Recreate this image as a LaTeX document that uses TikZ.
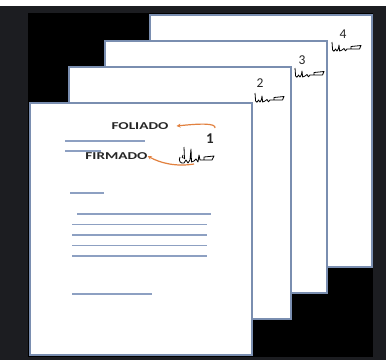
\documentclass[tikz,border=0pt]{standalone}
\usepackage{fontspec}
\setmainfont{Carlito}
\usetikzlibrary{arrows.meta}
\definecolor{framegray}{HTML}{1C1D21}
\definecolor{pageblue}{HTML}{7A8EB0}
\definecolor{lineblue}{HTML}{8DA0C2}
\definecolor{arroworange}{HTML}{E2813F}
\definecolor{txt}{HTML}{262626}
\tikzset{
  page/.style={draw=pageblue, line width=1.8pt, fill=white, anchor=north west,
    minimum width=222pt, minimum height=252pt, inner sep=0pt, outer sep=0pt},
  textline/.style={draw=lineblue, line width=1.5pt},
  lbl/.style={font=\fontsize{10.5}{11}\selectfont\bfseries, text=txt, inner sep=0pt},
  num/.style={font=\fontsize{13.5}{14}\selectfont, text=txt, inner sep=0pt},
  arr/.style={draw=arroworange, line width=1.2pt, -{Stealth[length=4pt,width=4pt]}},
  firma/.pic={
    \draw[line width=0.8pt, black, line join=round]
      (0,-8) -- (0.6,0) -- (2,1.2) -- (3.5,-1) -- (5,1) -- (6.5,-1.5)
      -- (7,-5) -- (7.6,1) -- (10,0) -- (12,-1.5) -- (13.5,0.8) -- (15,-1)
      -- (19,-1) -- (19,-3.5) -- (29,-4.5) -- (27.5,-1) -- (19,-1);
  },
  firmauno/.pic={
    \draw[line width=0.8pt, black, line join=round]
      (4,-14) -- (4.5,-2) (0,-4) .. controls (-2,0) and (1,3) .. (4,2)
      -- (6,-1) -- (8,2) -- (10,-1) -- (11,-12) -- (11.5,1) -- (14,0)
      -- (16,-2) -- (18,1) -- (19,-6) -- (20,-1) -- (24,-1) -- (24,-4)
      -- (34,-5) -- (32,-1) -- (24,-1);
    \draw[line width=0.7pt, black] (3,-6) .. controls (1,-5) and (2,-2) .. (5,-3);
  }
}
\begin{document}
\begin{tikzpicture}[x=1pt,y=-1pt]
\useasboundingbox (0,0) rectangle (386,360);
\fill[white] (0,0) rectangle (386,360);
\fill[framegray] (0,6) rectangle (386,360);
\fill[black] (28,13) rectangle (373,357);

% pages (back to front)
\node[page] (p4) at (150,15) {};
\node[page] (p3) at (105,41) {};
\node[page] (p2) at (69,67) {};
\node[page] (p1) at (30,103) {};

% numbers and signatures on pages 4,3,2
\node[num] (n4) at (343,34) {4};
\pic at (332,50) {firma};
\node[num] (n3) at (302,60) {3};
\pic at (295,76) {firma};
\node[num] (n2) at (260,83) {2};
\pic at (255,101) {firma};

% page 1 content
\node[num, font=\fontsize{15}{15}\selectfont\bfseries] (n1) at (210,139) {1};
\pic at (180,161) {firmauno};

\node[lbl] (fol) at (140,126) {\scalebox{1.45}[1]{FOLIADO}};
\node[lbl] (fir) at (116.5,156) {\scalebox{1.45}[1]{FIRMADO}};

\coordinate (fa) at (215,128);
\coordinate (fb) at (194,164);
\draw[arr] (fa) .. controls (216,123) and (200,123.5) .. ([xshift=8pt]fol.east);
\draw[arr] (fb) .. controls (176,167) and (160,163) .. (fir.east);

% text lines
\draw[textline] (65,141) -- (145,141);
\draw[textline] (65,151) -- (101,151);
\draw[textline] (70,193) -- (104,193);
\draw[textline] (77,214) -- (211,214);
\draw[textline] (72,224.5) -- (207,224.5);
\draw[textline] (72,235) -- (207,235);
\draw[textline] (72,245.5) -- (207,245.5);
\draw[textline] (72,256) -- (207,256);
\draw[textline] (72,294) -- (152,294);
\end{tikzpicture}
\end{document}
